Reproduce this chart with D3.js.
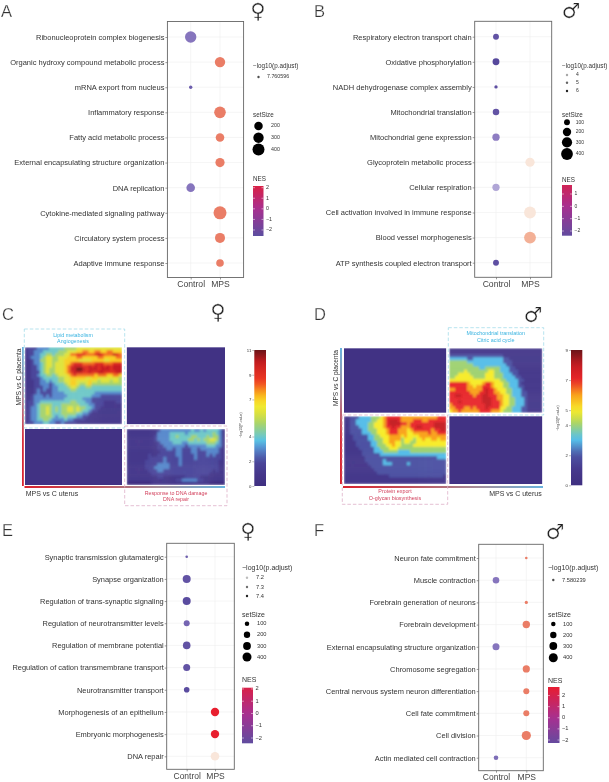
<!DOCTYPE html>
<html><head><meta charset="utf-8">
<script src="https://cdn.jsdelivr.net/npm/d3@7"></script>
<style>
html,body{margin:0;padding:0;background:#fff}
svg{display:block;filter:blur(0.35px)}
text{font-family:"Liberation Sans",Arial,sans-serif}
</style></head><body><div id="c"></div>
<script>
// ---------- dot plot data ----------
const termsA=["Ribonucleoprotein complex biogenesis","Organic hydroxy compound metabolic process","mRNA export from nucleus","Inflammatory response","Fatty acid metabolic process","External encapsulating structure organization","DNA replication","Cytokine-mediated signaling pathway","Circulatory system process","Adaptive immune response"];
const groupA=["Control","MPS","Control","MPS","MPS","MPS","Control","MPS","MPS","MPS"];
const sizeA=[361,300,32,374,205,235,205,470,278,160];
const nesA=[-1.8,1.6,-2.1,1.6,1.6,1.6,-1.8,1.6,1.6,1.6];

const termsB=["Respiratory electron transport chain","Oxidative phosphorylation","NADH dehydrogenase complex assembly","Mitochondrial translation","Mitochondrial gene expression","Glycoprotein metabolic process","Cellular respiration","Cell activation involved in immune response","Blood vessel morphogenesis","ATP synthesis coupled electron transport"];
const groupB=["Control","Control","Control","Control","Control","MPS","Control","MPS","MPS","Control"];
const sizeB=[100,136,32,121,152,245,152,400,400,100];
const nesB=[-2.25,-2.4,-2.3,-2.25,-1.7,0.6,-1.2,0.6,1.05,-2.3];

const termsE=["Synaptic transmission glutamatergic","Synapse organization","Regulation of trans-synaptic signaling","Regulation of neurotransmitter levels","Regulation of membrane potential","Regulation of cation transmembrane transport","Neurotransmitter transport","Morphogenesis of an epithelium","Embryonic morphogenesis","DNA repair"];
const groupE=["Control","Control","Control","Control","Control","Control","Control","MPS","MPS","MPS"];
const sizeE=[33,316,316,178,285,242,155,348,348,365];
const nesE=[-2.1,-2.25,-2.35,-2.0,-2.25,-2.25,-2.35,2.4,2.4,0.6];

const termsF=["Neuron fate commitment","Muscle contraction","Forebrain generation of neurons","Forebrain development","External encapsulating structure organization","Chromosome segregation","Central nervous system neuron differentiation","Cell fate commitment","Cell division","Actin mediated cell contraction"];
const groupF=["MPS","Control","MPS","MPS","Control","MPS","MPS","MPS","MPS","Control"];
const sizeF=[33,215,50,270,242,256,178,178,418,104];
const nesF=[1.6,-1.8,1.6,1.6,-1.8,1.6,1.6,1.6,1.6,-1.9];

const xCats=["Control","MPS"];
const sizeLegendAE=[200,300,400];
const sizeLegendB=[100,200,300,400];
const nesTicks=[2,1,0,-1,-2];
const nesTicksB=[1,0,-1,-2];

// ---------- heatmap data (one character per cell, hex -log10 P) ----------
const heatC_TL=[
"1222 3333 4444 4555 5666 6666 6666 6666",
"1223 3344 4445 5566 6778 8778 8778 8777",
"1223 3445 5455 5668 8999 8889 a988 8a98",
"1233 3456 6556 6677 7887 7777 8877 7788",
"1123 3556 6556 6777 7766 6677 7766 7777",
"1123 3456 6566 6778 9998 8889 9988 8999",
"1122 3456 6566 6789 aaa9 9a9a 9a9a 9aaa",
"1122 3456 5566 678a abba 9aaa 9aaa 9aaa",
"1122 2456 5566 6789 aaa9 9a99 aa99 99aa",
"1122 3445 5456 6678 9888 8887 8887 7887",
"1122 2344 4445 5667 7777 6677 6666 6665",
"1112 2334 3445 5667 7666 6766 5666 5665",
"1112 2333 2344 4567 7655 6755 5555 5555",
"1112 2233 2334 4456 6544 5544 4444 4444",
"1112 3232 2334 4445 5444 4444 4444 4444",
"1112 3222 2333 3444 4444 4443 3333 3333",
"1123 3323 2333 3344 4444 4433 3222 2222",
"1123 3333 3333 3444 4443 3322 2222 2222",
"1223 3444 4444 4445 5444 3322 2211 1122",
"1223 4555 5444 5555 5544 4332 2211 1111",
"1233 4556 5454 5566 5655 4432 2111 1111",
"1233 4556 5454 5566 5654 4322 1111 1111",
"1233 4556 5444 5555 5443 3211 1111 1111",
"1233 4555 5434 4544 4332 2111 1111 1111",
"1233 4455 4333 3433 2222 1111 1111 1111",
"1223 3344 3322 3222 2111 1111 1111 1111"];
const heatC_BR=[
"1111 1111 1123 3333 3333 3433 4344 4431",
"1111 1111 1133 3344 4443 4444 4444 5431",
"1111 1111 1233 3344 5444 4554 4454 5531",
"1111 1111 1233 3344 4444 5545 4556 6531",
"1111 1111 1123 3334 4433 4444 4455 5431",
"1111 1111 1122 3333 3332 3333 3344 4331",
"1111 1111 1122 2332 3322 2332 3333 3321",
"1111 1111 1112 2222 3322 2332 2233 3321",
"1111 1112 1122 2222 3322 2232 2232 3221",
"1111 1112 2222 3222 2322 2232 2222 2221",
"1111 1122 2222 3222 2322 2222 2222 2211",
"1111 1122 2233 3322 2322 2222 2222 2211",
"1111 1122 2333 3322 2222 2222 2222 2211",
"1111 1112 2233 2222 2222 2222 2222 1211",
"1111 1111 2222 2222 2222 2222 2221 1111",
"1111 1111 1122 1111 1112 2222 1111 1111",
"1111 1111 1111 1111 2233 3332 2111 1111",
"0000 0000 1111 1111 1111 1111 1110 0000"];
const heatD_TR=[
"1111 1111 1111 1111 1111 1111 1111 111",
"1111 1111 1111 1111 1111 1111 1111 111",
"2222 2222 2222 2222 2211 1111 1111 111",
"3333 3322 3333 3333 3322 1111 1111 111",
"4444 4433 3333 3333 3322 2111 1111 111",
"4444 4444 3333 3333 3332 2111 1111 111",
"4444 4444 4433 4444 4333 2211 1111 111",
"4444 4544 4444 4554 4333 2221 1111 111",
"4445 5554 4444 5554 4433 3221 1111 111",
"4455 5555 4444 5554 4433 3322 1111 111",
"5555 5555 5555 5555 5443 3332 2111 111",
"7777 7765 5556 7765 5544 3332 1111 111",
"7777 7766 5667 7765 5544 3332 2111 111",
"6677 7766 6667 8776 5554 4333 2111 111",
"7777 7776 6677 8776 6554 4333 2211 111",
"7788 7777 6778 8777 6655 4333 2211 111",
"7777 7777 7778 8877 6655 4433 3211 111",
"7778 7777 7778 8877 7655 4433 3211 111",
"6777 7777 7777 8877 7655 4433 3211 111",
"6677 7667 6777 8777 7554 4333 2211 111",
"5667 6666 6677 7766 6544 4333 2211 111"];
const heatD_BL=[
"1122 2333 3444 5677 7776 6666 6666 6667 77",
"1122 3333 3445 5678 8876 6667 7766 7777 77",
"1122 3333 4455 5678 8887 7677 7777 7788 88",
"1122 2333 4455 5677 8776 6677 8877 7788 88",
"1122 2233 4445 5567 7766 6567 7777 7677 88",
"1122 2233 3445 5567 7766 6556 6666 7667 77",
"1112 2222 3344 5556 6665 6555 5666 6666 66",
"1112 2222 3344 4556 6664 5554 5565 5665 66",
"1111 2222 2334 4556 6554 5544 5555 5555 55",
"1111 2222 2334 4455 6554 4445 5555 5555 55",
"1111 1222 2233 4445 5544 4444 4444 4444 44",
"1111 1122 2233 3444 4433 3344 4444 4444 44",
"1111 1122 2222 3333 3333 3333 3333 3333 33",
"1111 1112 2222 2222 2222 2222 2222 2223 33",
"1111 1112 2222 2322 2222 2222 2222 2222 22",
"1111 1111 2222 2333 2222 2322 2222 2222 22",
"1111 1111 1222 2222 2222 2222 2222 2222 22",
"1111 1111 1122 2222 2222 2222 2222 2222 22",
"1111 1111 1112 2222 2222 2222 2222 2222 22",
"1111 1111 1111 1112 2222 2222 2222 2222 21",
"1111 1111 1111 1111 1111 1111 1111 1111 11",
"1111 1111 1111 1111 1111 1111 1111 1111 11"];
const heatEmpty=["0"];
const heatTicksC=[11,9,7,4,2,0];
const heatTicksD=[9,7,5,4,2,0];

// ---------- drawing ----------
const svg=d3.select("#c").append("svg").attr("width",609).attr("height",782).attr("viewBox","0 0 609 782");
const defs=svg.append("defs");
defs.append("filter").attr("id","soft").attr("x","-5%").attr("y","-5%").attr("width","110%").attr("height","110%")
  .append("feGaussianBlur").attr("stdDeviation",1.0);
let gid=0;
function gradient(stops,x2,y2){
  const id="g"+(gid++);
  const g=defs.append("linearGradient").attr("id",id).attr("x1",0).attr("y1",0).attr("x2",x2).attr("y2",y2);
  stops.forEach((c,i)=>g.append("stop").attr("offset",i/(stops.length-1)).attr("stop-color",c));
  return "url(#"+id+")";
}
const dotColor=d3.scaleLinear()
  .domain([-2.4,-2.0,-1.7,-1.2,0.6,1.05,1.6,2.4])
  .range(["#56489c","#7565b2","#8e7dc2","#b0a6d6","#f9e6da","#f3b096","#ea7d66","#e81f2f"]);
const nesColor=d3.scaleLinear().domain([-2.6,0,2.8]).range(["#5b4ea0","#a83090","#e81c30"]);

function txt(x,y,s,size,o={}){
  const t=svg.append("text").attr("x",x).attr("y",y).attr("font-size",size).attr("fill",o.fill||"#333")
    .attr("text-anchor",o.anchor||"start").text(s);
  if(o.baseline) t.attr("dominant-baseline",o.baseline);
  if(o.rotate) t.attr("transform",`rotate(${o.rotate} ${x} ${y})`);
  if(o.family) t.style("font-family",o.family);
  if(o.thin) t.attr("stroke","#fff").attr("stroke-width",o.thin).attr("paint-order","fill");
  return t;
}

function dotPanel(p){
  const g=svg.append("g");
  const y=d3.scalePoint().domain(p.terms).range(p.yr);
  const x=d3.scalePoint().domain(xCats).range(p.xr);
  const r=d3.scaleSqrt().domain([0,400]).range([0,p.rmax]);
  g.append("g").selectAll("line").data(p.terms).join("line")
    .attr("x1",p.f[0]).attr("x2",p.f[1]).attr("y1",d=>y(d)).attr("y2",d=>y(d)).attr("stroke","#eeeeee").attr("stroke-width",.6);
  g.append("g").selectAll("line").data(xCats).join("line")
    .attr("y1",p.f[2]).attr("y2",p.f[3]).attr("x1",d=>x(d)).attr("x2",d=>x(d)).attr("stroke","#eeeeee").attr("stroke-width",.6);
  const ay=g.append("g").attr("transform",`translate(${p.f[0]},0)`).call(d3.axisLeft(y).tickSize(2).tickPadding(1));
  ay.select(".domain").remove();
  ay.selectAll("text").attr("font-size",p.fs).attr("fill","#333").style("font-family",'"Liberation Sans"');
  ay.selectAll("line").attr("stroke","#333").attr("stroke-width",.5);
  const ax=g.append("g").attr("transform",`translate(0,${p.f[3]})`).call(d3.axisBottom(x).tickSize(2).tickPadding(1.5));
  ax.select(".domain").remove();
  ax.selectAll("text").attr("font-size",p.xfs).attr("fill","#444").style("font-family",'"Liberation Sans"');
  ax.selectAll("line").attr("stroke","#333").attr("stroke-width",.5);
  g.append("g").selectAll("circle").data(p.terms).join("circle")
    .attr("cx",(d,i)=>x(p.group[i])).attr("cy",d=>y(d)).attr("r",(d,i)=>r(p.size[i])).attr("fill",(d,i)=>dotColor(p.nes[i]));
  g.append("rect").attr("x",p.f[0]).attr("y",p.f[2]).attr("width",p.f[1]-p.f[0]).attr("height",p.f[3]-p.f[2])
    .attr("fill","none").attr("stroke","#666").attr("stroke-width",.9);

  // legends
  const L=p.leg;
  txt(L.x,L.pTitleY,"\u2212log10(p.adjust)",L.fs,{baseline:"middle"});
  L.p.forEach(e=>{
    svg.append("circle").attr("cx",L.dx).attr("cy",e.y).attr("r",1.2).attr("fill","#222").attr("opacity",e.o);
    txt(L.lx,e.y,e.t,L.small,{baseline:"middle"});
  });
  txt(L.x,L.sTitleY,"setSize",L.fs,{baseline:"middle"});
  p.sizeTicks.forEach((s,i)=>{
    svg.append("circle").attr("cx",L.dx).attr("cy",L.sy[i]).attr("r",r(s)).attr("fill","#000");
    txt(L.slx,L.sy[i],s,L.small,{baseline:"middle"});
  });
  txt(L.x,L.nTitleY,"NES",L.fs,{baseline:"middle"});
  const ny=d3.scaleLinear().domain(L.nd).range(L.ny);
  const lo=L.nd[1],hi=L.nd[0];
  const stops=d3.range(0,11).map(i=>nesColor(hi+(lo-hi)*i/10));
  svg.append("rect").attr("x",L.x).attr("y",L.ny[0]).attr("width",L.bw).attr("height",L.ny[1]-L.ny[0]).attr("fill",gradient(stops,0,1));
  p.nesTicks.forEach(t=>{
    svg.append("line").attr("x1",L.x).attr("x2",L.x+2).attr("y1",ny(t)).attr("y2",ny(t)).attr("stroke","#fff").attr("stroke-width",.5);
    svg.append("line").attr("x1",L.x+L.bw-2).attr("x2",L.x+L.bw).attr("y1",ny(t)).attr("y2",ny(t)).attr("stroke","#fff").attr("stroke-width",.5);
    txt(L.x+L.bw+2.5,ny(t),String(t).replace("-","\u2212"),L.small,{baseline:"middle"});
  });
}

dotPanel({terms:termsA,group:groupA,size:sizeA,nes:nesA,rmax:6,fs:7.5,xfs:8.6,
  yr:[37,263],xr:[190.7,220],f:[167.4,243.6,21.5,277.5],sizeTicks:sizeLegendAE,nesTicks,
  leg:{x:253,dx:258.5,lx:267,slx:271,fs:6.3,small:5.3,pTitleY:66,p:[{y:77,t:"7.760596",o:.8}],sTitleY:115,sy:[126,137.7,149.5],nTitleY:179.5,nd:[2.16,-2.57],ny:[186,236],bw:10.5}});
dotPanel({terms:termsB,group:groupB,size:sizeB,nes:nesB,rmax:5.9,fs:7.5,xfs:8.6,
  yr:[36.7,262.7],xr:[496,530],f:[474.7,551.7,21.3,277.3],sizeTicks:sizeLegendB,nesTicks:nesTicksB,
  leg:{x:562,dx:567,lx:576,slx:575.7,fs:6.3,small:5,pTitleY:66,p:[{y:75,t:"4",o:.4},{y:82.7,t:"5",o:.7},{y:91,t:"6",o:1}],sTitleY:115,sy:[122.3,132,142.3,154],nTitleY:180,nd:[1.73,-2.38],ny:[185,235.7],bw:10}});
dotPanel({terms:termsE,group:groupE,size:sizeE,nes:nesE,rmax:4.5,fs:7.45,xfs:8.5,
  yr:[556.7,756.3],xr:[186.7,215],f:[166.7,234.3,543.3,769.3],sizeTicks:sizeLegendB,nesTicks,
  leg:{x:242,dx:247,lx:256,slx:257,fs:7,small:5.7,pTitleY:568,p:[{y:577.7,t:"7.2",o:.3},{y:587,t:"7.3",o:.65},{y:596,t:"7.4",o:1}],sTitleY:615,sy:[623.7,634.7,646,657],nTitleY:680,nd:[2.1,-2.43],ny:[687.7,743.3],bw:11}});
dotPanel({terms:termsF,group:groupF,size:sizeF,nes:nesF,rmax:4.5,fs:7.45,xfs:8.5,
  yr:[558,757.7],xr:[496,526.3],f:[478.7,543.3,544.3,770.7],sizeTicks:sizeLegendB,nesTicks,
  leg:{x:548,dx:553.3,lx:562,slx:563,fs:7,small:5.7,pTitleY:568,p:[{y:580,t:"7.580239",o:.8}],sTitleY:615,sy:[624,635,646,657.7],nTitleY:680.7,nd:[2.77,-2.27],ny:[687,743],bw:11.5}});

function heatScale(dom,cols){return d3.scaleLinear().domain(dom).range(cols).clamp(true);}
const heatColorC=heatScale([0,1,2,3,3.6,4,5,5.8,6.6,7.5,8.5,10,11],
  ["#3f2f80","#45378b","#4b479b","#5688cc","#55c0e8","#6ec8c8","#a5d36e","#d8e040","#f7ec2c","#f9a81b","#ee3a24","#c71c20","#6b1418"]);
const heatColorD=heatScale([0,1,2,3,3.5,4,4.6,5,6,7,8,9],
  ["#3f2f80","#45378b","#4d52a3","#55bde8","#72c8c0","#9fd272","#d8e040","#f7ec2c","#f9a21b","#e8262a","#c51c22","#6b1418"]);

function heat(rows,color,box,soft){
  const m=rows.map(r=>r.replace(/ /g,"").split("").map(c=>parseInt(c,16)));
  const nc=m[0].length;
  const x=d3.scaleBand().domain(d3.range(nc)).range([box[0],box[1]]);
  const y=d3.scaleBand().domain(d3.range(m.length)).range([box[2],box[3]]);
  const clipId="cl"+(gid++);
  defs.append("clipPath").attr("id",clipId).append("rect").attr("x",box[0]).attr("y",box[2]).attr("width",box[1]-box[0]).attr("height",box[3]-box[2]);
  const outer=svg.append("g").attr("clip-path",`url(#${clipId})`);
  const g=outer.append("g");
  if(soft) g.attr("filter","url(#soft)");
  m.forEach((row,i)=>g.selectAll(null).data(row).join("rect")
    .attr("x",(d,j)=>x(j)-.2).attr("y",y(i)-.2).attr("width",x.bandwidth()+.4).attr("height",y.bandwidth()+.4)
    .attr("fill",d=>color(soft||d?d:0.4)));
}
function dashed(b,c){
  svg.append("rect").attr("x",b[0]).attr("y",b[2]).attr("width",b[1]-b[0]).attr("height",b[3]-b[2])
   .attr("fill","none").attr("stroke",c).attr("stroke-width",.8).attr("stroke-dasharray","3.5 2");
}
function heatBar(color,dom,ticks,b,labX,vx,vy){
  const y=d3.scaleLinear().domain(dom).range([b[3],b[2]]);
  const stops=d3.range(0,25).map(i=>color(dom[1]-(dom[1]-dom[0])*i/24));
  svg.append("rect").attr("x",b[0]).attr("y",b[2]).attr("width",b[1]-b[0]).attr("height",b[3]-b[2]).attr("fill",gradient(stops,0,1));
  const a=svg.append("g").attr("transform",`translate(${b[0]},0)`).call(d3.axisLeft(y).tickValues(ticks).tickSize(2).tickPadding(1));
  a.select(".domain").remove();
  a.selectAll("text").attr("font-size",4.3).attr("fill","#333").style("font-family",'"Liberation Sans"');
  a.selectAll("line").attr("stroke","#555").attr("stroke-width",.4);
  txt(vx,vy,"\u2212log10(P-value)",3.6,{anchor:"middle",rotate:-90,fill:"#444"});
}
const cyan="#38b3e0", red="#d2405c", cyanBox="#a5dcea", pinkBox="#deb0c8";
const barV=["#6ab4de","#a98a9e","#d8303c","#d8232f"], barH=["#d8232f","#c25058","#a58c98","#6ab4de"];

// Panel C
heat(heatC_TL,heatColorC,[25,122,347.3,424.3],true);
heat(heatEmpty,heatColorC,[126.7,225,347.3,424.3],false);
heat(heatEmpty,heatColorC,[25,122,429,485],false);
heat(heatC_BR,heatColorC,[126.7,225,429,485],true);
svg.append("rect").attr("x",22).attr("y",347).attr("width",1.8).attr("height",139).attr("fill",gradient(barV,0,1));
svg.append("rect").attr("x",24.5).attr("y",486).attr("width",200.5).attr("height",2).attr("fill",gradient(barH,1,0));
dashed([24.3,124.7,329,428],cyanBox);
dashed([124.7,227,426,505.7],pinkBox);
txt(73,336.8,"Lipid metabolism",5.3,{anchor:"middle",fill:cyan});
txt(73,343.3,"Angiogenesis",5.3,{anchor:"middle",fill:cyan});
txt(176,494.8,"Response to DNA damage",5.3,{anchor:"middle",fill:red});
txt(176,501.2,"DNA repair",5.3,{anchor:"middle",fill:red});
txt(25.7,496,"MPS vs C uterus",7);
txt(20.5,377,"MPS vs C placenta",6.7,{anchor:"middle",rotate:-90});
heatBar(heatColorC,[0,11],heatTicksC,[254.3,266,350,486],0,242,425);

// Panel D
heat(heatEmpty,heatColorD,[344,446.3,348.3,412.7],false);
heat(heatD_TR,heatColorD,[449.3,542.3,348.3,412.7],true);
heat(heatD_BL,heatColorD,[344,446.3,416.3,484],true);
heat(heatEmpty,heatColorD,[449.3,542.3,416.3,484],false);
svg.append("rect").attr("x",340).attr("y",348).attr("width",2).attr("height",136).attr("fill",gradient(barV,0,1));
svg.append("rect").attr("x",343).attr("y",486).attr("width",200).attr("height",2).attr("fill",gradient(barH,1,0));
dashed([448.3,543.7,327.7,415],cyanBox);
dashed([342.3,447.7,415,504.3],pinkBox);
txt(495.7,335.1,"Mitochondrial translation",5.4,{anchor:"middle",fill:cyan});
txt(495.7,341.8,"Citric acid cycle",5.4,{anchor:"middle",fill:cyan});
txt(395,493.4,"Protein export",5.35,{anchor:"middle",fill:red});
txt(395,499.8,"O-glycan biosynthesis",5.35,{anchor:"middle",fill:red});
txt(541.7,496.4,"MPS vs C uterus",7,{anchor:"end"});
txt(337.5,378,"MPS vs C placenta",6.6,{anchor:"middle",rotate:-90});
heatBar(heatColorD,[0,9],heatTicksD,[571,582.3,350,485.3],0,559,418);

// letters and sex symbols
[["A",1,17],["B",314,17],["C",2,320],["D",314,320],["E",2,536],["F",314,536]].forEach(d=>txt(d[1],d[2],d[0],16.5,{fill:"#333",thin:.25}));
[["\u2640",258,18],["\u2642",571,18],["\u2640",218,319],["\u2642",533,321.5],["\u2640",248,538],["\u2642",555,538.5]]
  .forEach(d=>txt(d[1],d[2],d[0],21,{anchor:"middle",fill:"#222",family:'"DejaVu Sans"',thin:.35}));
</script></body></html>
